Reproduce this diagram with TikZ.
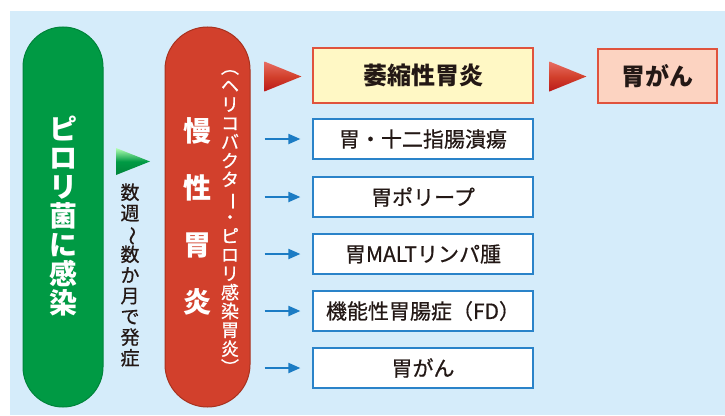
\documentclass[tikz,border=0pt]{standalone}
\usepackage{fontspec}
\usepackage{graphicx}
\setmainfont{Noto Sans CJK JP}
\newfontfamily\jpmed[RawFeature={embolden=0.7}]{Noto Sans CJK JP}
\usetikzlibrary{arrows.meta,calc}
\definecolor{bg}{HTML}{D5ECFA}
\definecolor{pillgreen}{HTML}{009A44}
\definecolor{pillgreenD}{HTML}{00843A}
\definecolor{pillred}{HTML}{D2402C}
\definecolor{pillredD}{HTML}{A8321F}
\definecolor{boxred}{HTML}{E0533D}
\definecolor{boxyellow}{HTML}{FFF8C5}
\definecolor{boxpink}{HTML}{FCD3C1}
\definecolor{boxblue}{HTML}{2A83C9}
\definecolor{arrblue}{HTML}{1C7CC4}
\definecolor{ink}{HTML}{231815}
\newcommand\rv[1]{\rotatebox[origin=c]{-90}{#1}}
\begin{document}
\begin{tikzpicture}[x=1pt,y=-1pt,
  pill/.style={rectangle, inner sep=0pt, line width=1pt, minimum height=380pt},
  vtext/.style={align=center, inner sep=0pt},
  bigbox/.style={rectangle, draw=boxred, line width=1.2pt, inner sep=0pt, minimum height=55pt, text=ink, font=\fontsize{24}{26}\selectfont\bfseries},
  whitebox/.style={rectangle, draw=boxblue, fill=white, line width=1.2pt, inner sep=0pt, minimum width=220pt, minimum height=40pt, text=ink, font=\fontsize{21}{23}\selectfont\jpmed},
  bluearrow/.style={draw=arrblue, line width=2pt, -{Triangle[length=12pt,width=10pt]}, shorten <=14pt, shorten >=12pt},
  redtri/.style={top color=red!25!pillred!70!white, bottom color=red!70!black!90, middle color=pillred},
  greentri/.style={top color=green!30!white, bottom color=pillgreenD, middle color=pillgreen}
]
\useasboundingbox (0,0) rectangle (725,415);
\fill[bg] (10,11) rectangle (725,415);
% pills
\node[pill, fill=pillgreen, draw=pillgreenD, minimum width=80pt, rounded corners=40pt] (green) at (63,217) {};
\node[pill, fill=pillred, draw=pillredD, minimum width=85pt, rounded corners=42.5pt] (red) at (207.5,217) {};
\node[vtext, text=white, font=\fontsize{28}{29}\selectfont\bfseries] (gtext) at (63,216) {ピ\\ロ\\リ\\菌\\に\\感\\染};
\node[vtext, text=white, font=\fontsize{28}{57}\selectfont\bfseries] (rtext) at (197,216.5) {慢\\性\\胃\\炎};
\node[vtext, text=white, font=\fontsize{18}{18.8}\selectfont\jpmed] (rsub) at (230,217) {\rv{（}\\ヘ\\リ\\コ\\バ\\ク\\タ\\\rv{ー}\\・\\ピ\\ロ\\リ\\感\\染\\胃\\炎\\\rv{）}};
\node[vtext, text=ink, font=\fontsize{19}{20.7}\selectfont\jpmed] (mid) at (130,275) {数\\週\\\rv{～}\\数\\か\\月\\で\\発\\症};
% green triangle
\coordinate (gt) at (116,148);
\shade[greentri] (gt) -- ++(0,27) -- ++(34,-13.5) -- cycle;
% boxes
\node[bigbox, fill=boxyellow, minimum width=220pt] (b1) at (423,75.5) {萎縮性胃炎};
\node[bigbox, fill=boxpink, minimum width=119pt, minimum height=54pt] (cancer) at (657.5,76) {胃がん};
\node[whitebox] (b2) at (423,139) {胃・十二指腸潰瘍};
\node[whitebox] (b3) at (423,197) {胃ポリープ};
\node[whitebox] (b4) at (423,254) {胃MALTリンパ腫};
\node[whitebox] (b5) at (423,311) {機能性胃腸症（FD）};
\node[whitebox] (b6) at (423,368) {胃がん};
% red triangles
\shade[redtri] ($(b1.west)+(-48,-14)$) -- ++(0,30) -- ++(37,-15) -- cycle;
\shade[redtri] ($(cancer.west)+(-48,-14.5)$) -- ++(0,30) -- ++(37,-15) -- cycle;
% blue arrows
\foreach \b in {b2,b3,b4,b5,b6}
  \draw[bluearrow] (red.east |- \b.west) -- (\b.west);
\end{tikzpicture}
\end{document}
